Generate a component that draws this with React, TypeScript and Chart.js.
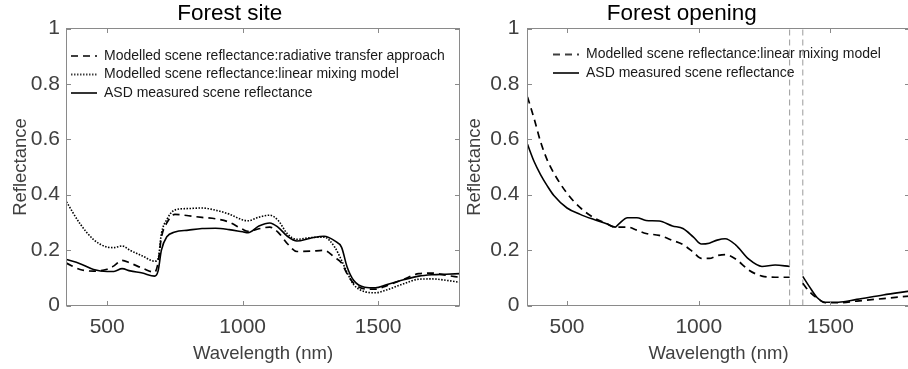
import React, { useEffect, useRef } from "react";
import { Chart, registerables } from "chart.js";

Chart.register(...registerables);

const FONT_FAMILY = "'Liberation Sans', Arial, Helvetica, sans-serif";
const AXIS_COLOR = "#8a8a8a";
const LABEL_COLOR = "#404040";
const INK = "#000000";
const BAND_COLOR = "#9a9a9a";

Chart.defaults.font.family = FONT_FAMILY;

// Shared axis setup
const xMin = 350;
const xMax = 1800;
const xTickValues = [500, 1000, 1500];
const yTickValues = [0, 0.2, 0.4, 0.6, 0.8, 1];

// Forest site spectra
const siteWavelength = [350, 400, 450, 500, 525, 555, 585, 630, 675, 688, 700, 720, 750, 800, 850, 900, 950, 1000, 1020, 1060, 1100, 1130, 1165, 1200, 1250, 1300, 1340, 1365, 1385, 1410, 1450, 1490, 1530, 1590, 1650, 1700, 1750, 1800];
const siteRadiativeTransfer = [0.153, 0.130, 0.124, 0.131, 0.143, 0.163, 0.153, 0.135, 0.120, 0.155, 0.245, 0.298, 0.329, 0.324, 0.318, 0.313, 0.301, 0.275, 0.268, 0.277, 0.283, 0.265, 0.223, 0.195, 0.196, 0.199, 0.173, 0.153, 0.115, 0.080, 0.060, 0.059, 0.071, 0.093, 0.115, 0.117, 0.109, 0.102];
const siteLinearMixing = [0.374, 0.295, 0.238, 0.211, 0.209, 0.215, 0.199, 0.179, 0.160, 0.169, 0.259, 0.310, 0.345, 0.350, 0.352, 0.344, 0.330, 0.309, 0.306, 0.319, 0.326, 0.308, 0.259, 0.239, 0.245, 0.247, 0.210, 0.163, 0.120, 0.075, 0.050, 0.046, 0.056, 0.077, 0.095, 0.096, 0.091, 0.084];
const siteMeasured = [0.166, 0.151, 0.130, 0.123, 0.123, 0.133, 0.125, 0.117, 0.106, 0.125, 0.199, 0.248, 0.265, 0.272, 0.278, 0.279, 0.274, 0.266, 0.263, 0.287, 0.298, 0.283, 0.250, 0.233, 0.243, 0.250, 0.233, 0.210, 0.140, 0.090, 0.066, 0.064, 0.075, 0.092, 0.106, 0.111, 0.113, 0.115];

// Forest opening spectra (water absorption band removed)
const openingWavelength = [350, 375, 400, 425, 450, 500, 550, 600, 650, 683, 695, 730, 765, 800, 850, 900, 940, 980, 1010, 1040, 1070, 1100, 1140, 1190, 1240, 1290, 1345, 1370, 1395, 1420, 1450, 1480, 1530, 1600, 1700, 1800];
const openingLinearMixing = [0.753, 0.675, 0.590, 0.525, 0.478, 0.405, 0.353, 0.318, 0.296, 0.283, 0.283, 0.283, 0.272, 0.260, 0.253, 0.235, 0.220, 0.192, 0.170, 0.170, 0.180, 0.184, 0.168, 0.128, 0.106, 0.102, 0.102, null, 0.080, 0.050, 0.026, 0.010, 0.010, 0.016, 0.025, 0.034];
const openingMeasured = [0.582, 0.520, 0.472, 0.432, 0.397, 0.352, 0.329, 0.311, 0.295, 0.283, 0.293, 0.317, 0.317, 0.307, 0.305, 0.287, 0.278, 0.247, 0.222, 0.225, 0.236, 0.241, 0.219, 0.167, 0.141, 0.146, 0.141, null, 0.105, 0.068, 0.028, 0.012, 0.012, 0.022, 0.038, 0.052];
const openingBandEdges = [1345, 1395];

const DASHED = [7, 5];
const DOTTED = [1.5, 1.5];
const SAMPLE_WIDTH = 26;

type Vals = (number | null)[];

function toPoints(wl: number[], values: Vals) {
  return wl.map((x, i) => ({ x, y: values[i] }));
}

function spectrum(label: string, wl: number[], values: Vals, dash: number[], width: number) {
  return {
    label,
    data: toPoints(wl, values),
    borderColor: INK,
    backgroundColor: INK,
    borderWidth: width,
    borderDash: dash,
    pointRadius: 0,
    fill: false,
    spanGaps: false,
    cubicInterpolationMode: "monotone" as const,
  };
}

function bandEdge(x: number) {
  return {
    label: "",
    data: [
      { x, y: 0 },
      { x, y: 1 },
    ],
    borderColor: BAND_COLOR,
    borderWidth: 1,
    borderDash: [6, 4],
    pointRadius: 0,
    fill: false,
  };
}

// Small line swatch used as the legend marker, keeping each series' dash pattern
function lineSwatch(color: string, dash: number[], width: number) {
  const c = document.createElement("canvas");
  c.width = SAMPLE_WIDTH;
  c.height = 4;
  const g = c.getContext("2d") as CanvasRenderingContext2D;
  g.strokeStyle = color;
  g.lineWidth = width;
  g.setLineDash(dash || []);
  g.beginPath();
  g.moveTo(0, 2);
  g.lineTo(SAMPLE_WIDTH, 2);
  g.stroke();
  return c;
}

// Box around the plot area with inward tick marks on all four sides
const framePlugin = {
  id: "frame",
  afterDatasetsDraw(chart: any) {
    const { ctx, chartArea: a, scales } = chart;
    const xs = scales.x;
    const ys = scales.y;
    const len = 4.5;
    ctx.save();
    ctx.strokeStyle = AXIS_COLOR;
    ctx.lineWidth = 1;
    ctx.setLineDash([]);
    ctx.strokeRect(a.left, a.top, a.right - a.left, a.bottom - a.top);
    ctx.beginPath();
    xs.ticks.forEach((t: any) => {
      const p = Math.round(xs.getPixelForValue(t.value)) + 0.5;
      ctx.moveTo(p, a.bottom);
      ctx.lineTo(p, a.bottom - len);
      ctx.moveTo(p, a.top);
      ctx.lineTo(p, a.top + len);
    });
    ys.ticks.forEach((t: any) => {
      const p = Math.round(ys.getPixelForValue(t.value)) + 0.5;
      ctx.moveTo(a.left, p);
      ctx.lineTo(a.left + len, p);
      ctx.moveTo(a.right, p);
      ctx.lineTo(a.right - len, p);
    });
    ctx.stroke();
    ctx.restore();
  },
};

// Puts the legend inside the plot area at a fixed offset from its top-left corner
function legendPlacement(dx: number, dy: number) {
  return {
    id: "legendPlacement",
    afterLayout(chart: any) {
      const lg = chart.legend;
      if (!lg) return;
      const a = chart.chartArea;
      lg.left = a.left + dx;
      lg.right = lg.left + lg.width;
      lg.top = a.top + dy;
      lg.bottom = a.bottom;
    },
  };
}

interface PanelSpec {
  title: string;
  datasets: any[];
  axisWidth: number;
  rightPad: number;
  yTickPad: number;
  legendDx: number;
  legendDy: number;
}

function buildConfig(p: PanelSpec): any {
  return {
    type: "line",
    data: { datasets: p.datasets },
    options: {
      responsive: false,
      animation: false,
      events: [],
      layout: { padding: { left: 0, right: p.rightPad, top: 0, bottom: 0 } },
      scales: {
        x: {
          type: "linear",
          min: xMin,
          max: xMax,
          afterBuildTicks: (s: any) => {
            s.ticks = xTickValues.map((value) => ({ value }));
          },
          afterFit: (s: any) => {
            s.height = 63.5;
          },
          grid: { display: false, drawTicks: false },
          border: { display: false },
          ticks: {
            color: LABEL_COLOR,
            font: { size: 21, lineHeight: 1.2 },
            padding: 9,
            maxRotation: 0,
            callback: (v: any) => String(v),
          },
          title: {
            display: true,
            text: "Wavelength (nm)",
            color: LABEL_COLOR,
            font: { size: 18.5, lineHeight: 1.2 },
            padding: { top: 0, bottom: 4 },
          },
        },
        y: {
          type: "linear",
          min: 0,
          max: 1,
          afterBuildTicks: (s: any) => {
            s.ticks = yTickValues.map((value) => ({ value }));
          },
          afterFit: (s: any) => {
            s.width = p.axisWidth;
          },
          grid: { display: false, drawTicks: false },
          border: { display: false },
          ticks: {
            color: LABEL_COLOR,
            font: { size: 21, lineHeight: 1.2 },
            padding: p.yTickPad,
            callback: (v: any) => String(Number(Number(v).toFixed(1))),
          },
          title: {
            display: true,
            text: "Reflectance",
            color: LABEL_COLOR,
            font: { size: 18.5, lineHeight: 1.2 },
            padding: { top: 10, bottom: 0 },
          },
        },
      },
      plugins: {
        title: {
          display: true,
          text: p.title,
          color: INK,
          font: { size: 22.5, weight: "normal", lineHeight: 1.2 },
          padding: { top: 0, bottom: 1.5 },
        },
        legend: {
          position: "chartArea",
          align: "start",
          labels: {
            usePointStyle: true,
            pointStyleWidth: SAMPLE_WIDTH,
            padding: 4.5,
            color: "#1a1a1a",
            font: { size: 14 },
            filter: (item: any) => item.text !== "",
            generateLabels: (chart: any) => {
              const items = Chart.defaults.plugins.legend.labels.generateLabels(chart);
              return items.map((item: any) => {
                const ds = chart.data.datasets[item.datasetIndex];
                return {
                  ...item,
                  pointStyle: lineSwatch(ds.borderColor, ds.borderDash, ds.borderWidth),
                };
              });
            },
          },
        },
        tooltip: { enabled: false },
      },
    },
    plugins: [framePlugin, legendPlacement(p.legendDx, p.legendDy)],
  };
}

const sitePanel: PanelSpec = {
  title: "Forest site",
  datasets: [
    spectrum("Modelled scene reflectance:radiative transfer approach", siteWavelength, siteRadiativeTransfer, DASHED, 1.7),
    spectrum("Modelled scene reflectance:linear mixing model", siteWavelength, siteLinearMixing, DOTTED, 1.6),
    spectrum("ASD measured scene reflectance", siteWavelength, siteMeasured, [], 1.6),
  ],
  axisWidth: 66.5,
  rightPad: 66.5,
  yTickPad: 6.5,
  legendDx: 0,
  legendDy: 16,
};

const openingPanel: PanelSpec = {
  title: "Forest opening",
  datasets: [
    spectrum("Modelled scene reflectance:linear mixing model", openingWavelength, openingLinearMixing, DASHED, 1.7),
    spectrum("ASD measured scene reflectance", openingWavelength, openingMeasured, [], 1.6),
    ...openingBandEdges.map(bandEdge),
  ],
  axisWidth: 73.5,
  rightPad: 73.5,
  yTickPad: 8,
  legendDx: 21,
  legendDy: 14.5,
};

function Panel({ spec, left, width }: { spec: PanelSpec; left: number; width: number }) {
  const ref = useRef<HTMLCanvasElement>(null);
  useEffect(() => {
    const chart = new Chart(ref.current as HTMLCanvasElement, buildConfig(spec));
    return () => chart.destroy();
  }, [spec]);
  return (
    <canvas
      ref={ref}
      width={width}
      height={369}
      style={{ position: "absolute", left, top: 0, width, height: 369 }}
    />
  );
}

export default function App() {
  return (
    <div
      style={{
        position: "fixed",
        left: 0,
        top: 0,
        width: 908,
        height: 369,
        overflow: "hidden",
        background: "#ffffff",
      }}
    >
      <Panel spec={sitePanel} left={0} width={526} />
      <Panel spec={openingPanel} left={454} width={529} />
    </div>
  );
}
